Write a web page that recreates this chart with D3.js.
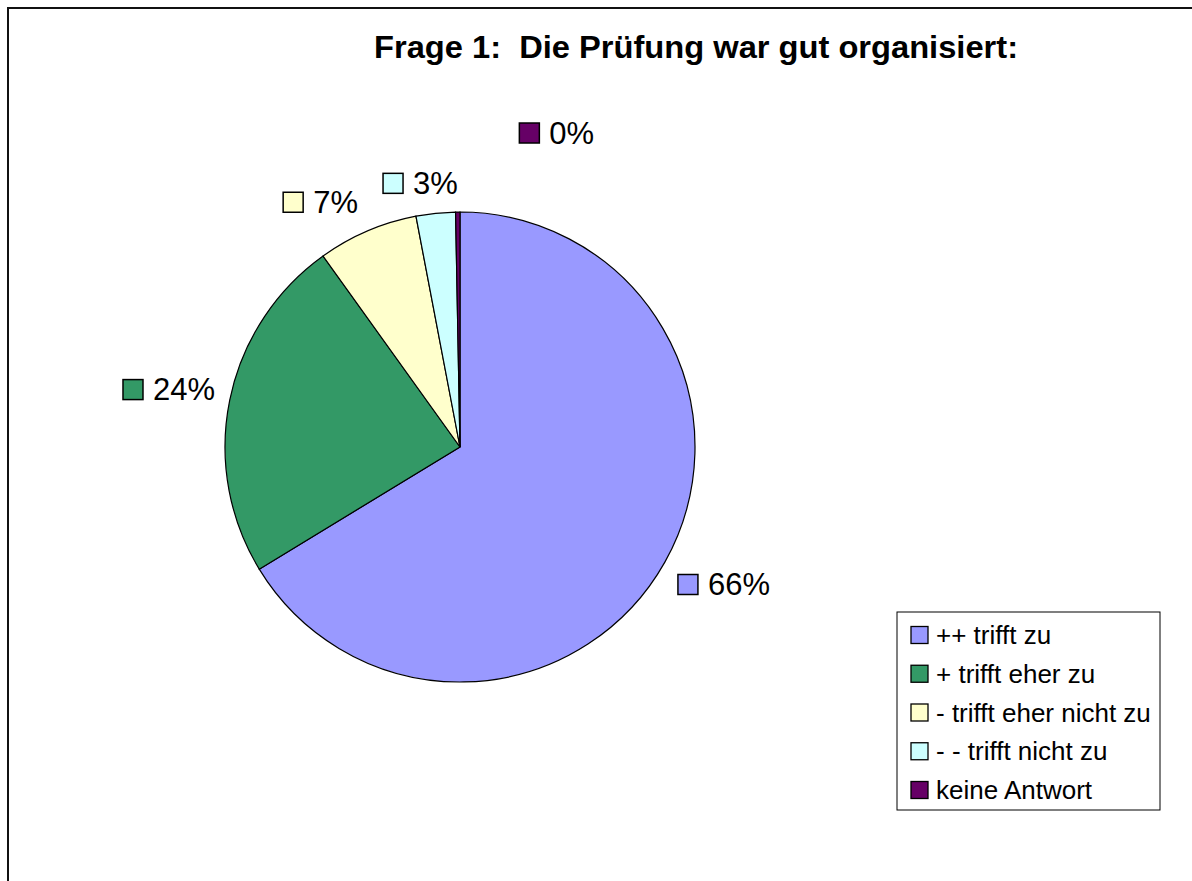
<!DOCTYPE html>
<html>
<head>
<meta charset="utf-8">
<script src="https://cdnjs.cloudflare.com/ajax/libs/d3/7.8.5/d3.min.js"></script>
<style>
  body { margin: 0; background: #fff; }
  svg text { font-family: "Liberation Sans", Arial, sans-serif; }
</style>
</head>
<body>
<div id="grafico"></div>
<script>
const WIDTH = 1192;
const HEIGHT = 881;

// Antworten auf Frage 1 (Anteile in %)
const kategorien = ["++ trifft zu", "+ trifft eher zu", "- trifft eher nicht zu", "- - trifft nicht zu", "keine Antwort"];
const anteile = [66.3, 23.8, 6.9, 2.7, 0.3];
const farben = ["#9999FF", "#339966", "#FFFFCC", "#CCFFFF", "#660066"];
const titel = "Frage 1:  Die Prüfung war gut organisiert:";

let svg = d3.select("#grafico")
    .append("svg")
    .attr("width", WIDTH)
    .attr("height", HEIGHT);

// Rahmen des Diagrammbereichs (läuft rechts und unten aus dem Bild)
svg.append("rect")
    .attr("x", 8)
    .attr("y", 8)
    .attr("width", WIDTH + 100)
    .attr("height", HEIGHT + 100)
    .style("fill", "white")
    .style("stroke", "#111")
    .style("stroke-width", 2);

svg.append("text")
    .attr("x", 374)
    .attr("y", 58)
    .attr("textLength", 644)
    .attr("lengthAdjust", "spacingAndGlyphs")
    .style("white-space", "pre")
    .style("font-size", "32px")
    .style("font-weight", "bold")
    .text(titel);

const cx = 460, cy = 447, radius = 235;

let pie = d3.pie().sort(null).value(d => d);
let arc = d3.arc().innerRadius(0).outerRadius(radius);
let bogen = pie(anteile);

let kuchen = svg.append("g")
    .attr("transform", `translate(${cx},${cy})`);

kuchen.selectAll(".slice")
    .data(bogen)
    .enter()
    .append("path")
    .attr("class", "slice")
    .attr("d", arc)
    .style("fill", (d, i) => farben[i])
    .style("stroke", "black")
    .style("stroke-width", 1.2);

// Datenbeschriftungen mit Legendensymbol
const labelRadius = 250;
const sq = 20, gap = 10, lh = 30;
// Excel schiebt die 0%-Beschriftung weg vom 3%-Label
const nudge = [[0, 0], [0, 0], [-4, 0], [-4, 0], [100, -49]];
const clamp = v => Math.max(-1, Math.min(1, v));

let labels = kuchen.selectAll(".lbl")
    .data(bogen)
    .enter()
    .append("g")
    .attr("class", "lbl");

labels.append("text")
    .attr("dy", "0.35em")
    .style("font-size", "31px")
    .text(d => Math.round(d.value) + "%");

labels.each(function(d, i) {
    let g = d3.select(this);
    let tw = g.select("text").node().getComputedTextLength();
    let w = sq + gap + tw;
    let a = (d.startAngle + d.endAngle) / 2;
    let px = labelRadius * Math.sin(a);
    let py = -labelRadius * Math.cos(a);
    let mx = px + clamp(Math.sin(a) * 2.5) * w / 2 + nudge[i][0];
    let my = py + clamp(-Math.cos(a) * 2.5) * lh / 2 + nudge[i][1];
    let x0 = mx - w / 2;
    g.insert("rect", "text")
        .attr("x", x0)
        .attr("y", my - sq / 2)
        .attr("width", sq)
        .attr("height", sq)
        .style("fill", farben[i])
        .style("stroke", "black")
        .style("stroke-width", 1.5);
    g.select("text")
        .attr("x", x0 + sq + gap)
        .attr("y", my);
});

// Legende
let legende = svg.append("g")
    .attr("transform", "translate(897,612)");

legende.append("rect")
    .attr("width", 263)
    .attr("height", 198)
    .style("fill", "white")
    .style("stroke", "black")
    .style("stroke-width", 1);

let zeile = d3.scalePoint()
    .domain(kategorien)
    .range([23, 178]);

let eintrag = legende.selectAll(".eintrag")
    .data(kategorien)
    .enter()
    .append("g")
    .attr("class", "eintrag")
    .attr("transform", d => `translate(0,${zeile(d)})`);

eintrag.append("rect")
    .attr("x", 14)
    .attr("y", -8.5)
    .attr("width", 17)
    .attr("height", 17)
    .style("fill", (d, i) => farben[i])
    .style("stroke", "black")
    .style("stroke-width", 1.3);

eintrag.append("text")
    .attr("x", 39)
    .attr("dy", "0.35em")
    .style("font-size", "26px")
    .text(d => d);
</script>
</body>
</html>
